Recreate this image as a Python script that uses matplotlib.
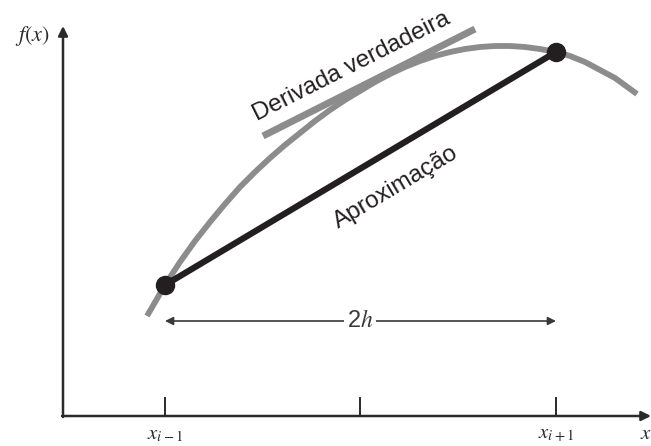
import matplotlib.pyplot as plt
import numpy as np

plt.rcParams['mathtext.fontset'] = 'stix'

# curve f(x) (canvas units, y grows downward)
curve_x = [147, 165, 180, 195, 210, 225, 240, 255, 270, 285, 300, 315, 330, 345, 360,
           375, 390, 405, 420, 435, 450, 465, 480, 495, 510, 525, 540, 556, 570, 585, 600, 615, 637]
curve_y = [316, 285, 262, 241, 222, 204, 187, 172, 158, 145, 133, 121, 110, 100, 91,
           82, 74, 67, 61, 56, 52, 49, 47, 46, 46, 47, 49, 52, 56, 62, 70, 78, 94]

# secant points (x_{i-1}, x_{i+1}) and true tangent at x_i
secant_x = [165, 556]
secant_y = [285, 52]
tangent_x = [263, 475]
tangent_y = [136, 29]

tick_x = [165, 360, 556]
tick_labels = ['$x_{i-1}$', '', '$x_{i+1}$']

origin = (63, 416)

fig = plt.figure(figsize=(6.51, 4.46), dpi=100)
ax = fig.add_axes([0, 0, 1, 1])
ax.set_xlim(0, 651)
ax.set_ylim(446, 0)
ax.axis('off')

# axes with arrows
axis_style = dict(arrowstyle='-|>', color='#2a2a2a', lw=1.8, mutation_scale=14, shrinkA=0, shrinkB=0)
ax.annotate('', xy=(origin[0], 26), xytext=(origin[0], origin[1] + 1),
            arrowprops=axis_style, annotation_clip=False)
ax.annotate('', xy=(651, origin[1]), xytext=(origin[0] - 1, origin[1]),
            arrowprops=axis_style, annotation_clip=False)
for tx, lab in zip(tick_x, tick_labels):
    ax.plot([tx, tx], [398, origin[1]], color='#2a2a2a', lw=1.4)
    if lab:
        ax.text(tx, 434, lab, ha='center', va='center', fontsize=15, color='#2a2a2a')
ax.text(640, 433, '$x$', ha='left', va='center', fontsize=15, color='#2a2a2a', clip_on=False)
ax.text(32, 36, '$f(x)$', ha='center', va='center', fontsize=16, color='#2a2a2a')

# curve, tangent and secant
ax.plot(curve_x, curve_y, color='#8c8c8c', lw=4.2, solid_capstyle='butt',
        solid_joinstyle='round', zorder=2)
ax.plot(tangent_x, tangent_y, color='#8c8c8c', lw=5, solid_capstyle='butt', zorder=2)
ax.plot(secant_x, secant_y, color='#231f20', lw=4.5, zorder=3)
ax.plot(secant_x, secant_y, 'o', color='#231f20', ms=13, zorder=4)

# labels along the lines
ang_t = np.degrees(np.arctan2(tangent_y[0] - tangent_y[1], tangent_x[1] - tangent_x[0]))
ang_s = np.degrees(np.arctan2(secant_y[0] - secant_y[1], secant_x[1] - secant_x[0]))
ax.text(351, 67, 'Derivada verdadeira', rotation=ang_t, rotation_mode='anchor',
        ha='center', va='center', fontsize=17.5, family='Liberation Sans', color='#231f20')
ax.text(396, 187, 'Aproximação', rotation=ang_s, rotation_mode='anchor',
        ha='center', va='center', fontsize=17.5, family='Liberation Sans', color='#231f20')

# 2h dimension arrow
ax.annotate('', xy=(secant_x[0], 321), xytext=(secant_x[1], 321),
            arrowprops=dict(arrowstyle='<|-|>', color='#3a3a3a', lw=1.2,
                            mutation_scale=12, shrinkA=0, shrinkB=0))
ax.text(360, 321, '2$h$', ha='center', va='center', fontsize=17, family='Liberation Sans',
        color='#3a3a3a', bbox=dict(facecolor='white', edgecolor='none', pad=2))

fig.savefig('out.png', dpi=100)
